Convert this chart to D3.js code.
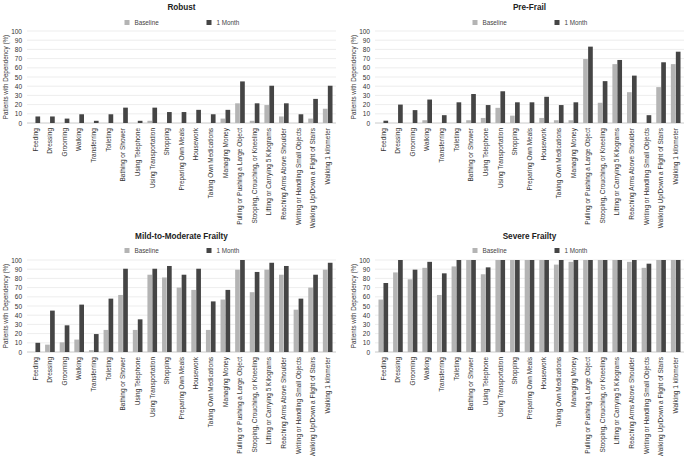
<!DOCTYPE html>
<html><head><meta charset="utf-8">
<script src="https://cdn.jsdelivr.net/npm/d3@7"></script>
<style>
body{margin:0;background:#fff;}
svg{display:block;font-family:"Liberation Sans",Arial,sans-serif;}
</style></head>
<body><svg id="c" width="685" height="456"></svg>
<script>
const categories = ["Feeding","Dressing","Grooming","Walking","Transferring","Toileting","Bathing or Shower","Using Telephone","Using Transportation","Shopping","Preparing Own Meals","Housework","Taking Own Medications","Managing Money","Pulling or Pushing a Large Object","Stooping, Crouching, or Kneeling","Lifting or Carrying 5 Kilograms","Reaching Arms Above Shoulder","Writing or Handling Small Objects","Walking Up/Down a Flight of Stairs","Walking 1 kilometer"];
const yTicks = [0,10,20,30,40,50,60,70,80,90,100];
const seriesNames = ["Baseline","1 Month"];

const robustBaseline = [0,0,0,0,0,0,0,0,2.4,0,0,0,0,4.8,21.4,2.4,19.5,7.1,0,4.8,15.5];
const robustMonth    = [7.1,7.1,4.8,9.5,2.4,9.5,16.7,2.4,16.7,11.9,11.9,14.3,9.5,14.3,45.2,21.4,40.5,21.4,9.5,26.2,40.5];
const preFrailBaseline = [0,0,0,3,0,0,3,5.5,16.5,8,0,5.5,3,3,69.5,22,64,33.5,0,39,64];
const preFrailMonth    = [2.5,20,14,25.5,8.5,22.5,31.5,19.5,34.5,22.5,22.5,28.5,19.5,22.5,83,45.5,68.5,51.5,8.5,66,77.5];
const mildBaseline = [0,8,10.5,13.5,2,24,62,24,84,81,70,67.5,24,57,89.5,65,89.5,84,46,70,89.5];
const mildMonth    = [10,45,29,51.5,19.5,58,90.5,35.5,90.5,93.5,84,90.5,55,67.5,100,87,97,93.5,58,84,97];
const severeBaseline = [57,86.5,79,91.5,62,93,100,84.5,100,100,100,100,95,98,100,100,100,98,91.5,100,100];
const severeMonth    = [75,100,89.5,98,85.5,100,100,92,100,100,100,100,100,100,100,100,100,100,96,100,100];

const colors = {"Baseline":"#b4b4b4","1 Month":"#454545"};
const svg = d3.select("#c");

function panel(cfg){
  const g = svg.append("g");
  const x = d3.scaleBand().domain(categories).range([cfg.x0, cfg.x1]).paddingInner(0.34).paddingOuter(0.17);
  const xs = d3.scaleBand().domain(seriesNames).range([0, x.bandwidth()]).paddingInner(0.06);
  const y = d3.scaleLinear().domain([0,100]).range([cfg.yBot, cfg.yTop]);
  const cx = (cfg.x0+cfg.x1)/2;
  // title
  g.append("text").attr("x", cx).attr("y", cfg.titleY).attr("text-anchor","middle")
    .attr("font-size", 8.2).attr("font-weight","bold").attr("fill","#222").text(cfg.title);
  // legend
  const leg = [{n:"Baseline", x: cx-57},{n:"1 Month", x: cx+25}];
  leg.forEach(l=>{
    g.append("rect").attr("x", l.x).attr("y", cfg.legY-2.5).attr("width",5).attr("height",5).attr("fill", colors[l.n]);
    g.append("text").attr("x", l.x+10).attr("y", cfg.legY).attr("dy","0.35em").attr("font-size",6.3).attr("fill","#444").text(l.n);
  });
  // grid
  g.append("g").selectAll("line").data(yTicks).join("line")
    .attr("x1", cfg.x0-1).attr("x2", cfg.x1+1).attr("y1", d=>y(d)).attr("y2", d=>y(d))
    .attr("stroke", d=> d===0 ? "#bdbdbd" : "#e9e9e9").attr("stroke-width", 0.8);
  // y axis
  const ya = g.append("g").attr("transform",`translate(${cfg.x0-1},0)`)
    .call(d3.axisLeft(y).tickValues(yTicks).tickSize(0).tickPadding(5));
  ya.select(".domain").remove();
  ya.selectAll("text").attr("font-size",6.5).attr("fill","#333").attr("font-family","Liberation Sans, Arial, sans-serif");
  g.append("text").attr("transform",`translate(${cfg.x0-22},${(cfg.yTop+cfg.yBot)/2}) rotate(-90)`)
    .attr("text-anchor","middle").attr("dy","0.35em").attr("font-size",6.3).attr("fill","#333").text("Patients with Dependency (%)");
  // bars
  const rows = categories.map((c,i)=>({c, vals:[{s:"Baseline", v:cfg.b[i]},{s:"1 Month", v:cfg.m[i]}]}));
  const grp = g.append("g").selectAll("g").data(rows).join("g").attr("transform", d=>`translate(${x(d.c)},0)`);
  grp.selectAll("rect").data(d=>d.vals).join("rect")
    .attr("x", d=>xs(d.s)).attr("width", xs.bandwidth())
    .attr("y", d=>y(d.v)).attr("height", d=>y(0)-y(d.v)).attr("fill", d=>colors[d.s]);
  // x labels
  const xa = g.append("g").attr("transform",`translate(0,${cfg.yBot})`)
    .call(d3.axisBottom(x).tickSize(0).tickPadding(0));
  xa.select(".domain").remove();
  xa.selectAll("text").attr("font-size",6.5).attr("fill","#333").attr("font-family","Liberation Sans, Arial, sans-serif")
    .attr("text-anchor","end").attr("transform","translate(0,5) rotate(-90)").attr("x",0).attr("y",0).attr("dy","0.35em");
}

panel({title:"Robust", x0:28, x1:335, yTop:31, yBot:123, titleY:10, legY:22.5, b:robustBaseline, m:robustMonth});
panel({title:"Pre-Frail", x0:376, x1:683, yTop:31, yBot:123, titleY:10, legY:22.5, b:preFrailBaseline, m:preFrailMonth});
panel({title:"Mild-to-Moderate Frailty", x0:28, x1:335, yTop:260, yBot:352, titleY:239, legY:250.5, b:mildBaseline, m:mildMonth});
panel({title:"Severe Frailty", x0:376, x1:683, yTop:260, yBot:352, titleY:239, legY:250.5, b:severeBaseline, m:severeMonth});
</script></body></html>
